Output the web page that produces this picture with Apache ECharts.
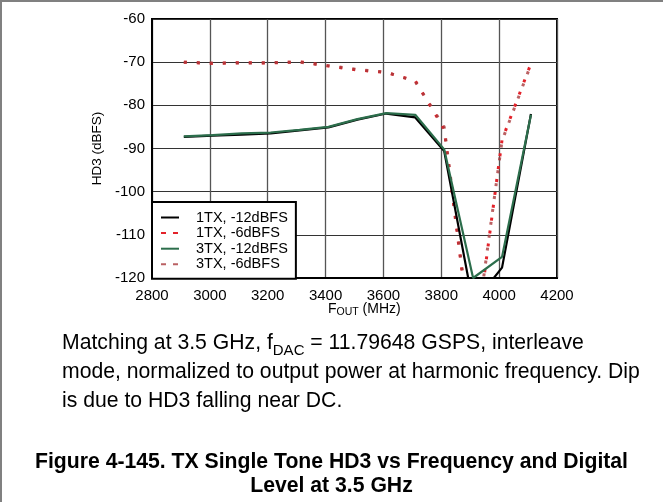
<!DOCTYPE html>
<html>
<head>
<meta charset="utf-8">
<script src="https://cdn.jsdelivr.net/npm/echarts@6/dist/echarts.min.js"></script>
<style>
html,body{margin:0;padding:0;background:#fff;}
#c{width:663px;height:502px;}
</style>
</head>
<body>
<div id="c"></div>
<script>
// Data
const freqMHz = [2910, 3010, 3110, 3210, 3310, 3410, 3510, 3610, 3710, 3810, 3910, 4010, 4110];
const tx1_m12 = [-87.3, -87.0, -86.8, -86.5, -85.8, -85.1, -83.3, -81.9, -82.8, -90.6, -126.0, -117.6, -82.0];
const tx1_m6  = [-70.0, -70.3, -70.1, -70.2, -69.9, -70.9, -71.8, -72.4, -74.3, -85.5, -139.0, -88.0, -70.3];
const tx3_m12 = [-87.2, -86.9, -86.5, -86.3, -85.7, -85.0, -83.2, -81.8, -82.2, -90.2, -120.0, -115.1, -82.2];
const tx3_m6  = [-70.0, -70.2, -70.2, -70.1, -70.0, -70.8, -71.7, -72.3, -74.5, -85.0, -138.0, -88.2, -70.5];
const seriesNames = ['1TX, -12dBFS', '1TX, -6dBFS', '3TX, -12dBFS', '3TX, -6dBFS'];
const xTicks = [2800, 3000, 3200, 3400, 3600, 3800, 4000, 4200];
const yTicks = [-120, -110, -100, -90, -80, -70, -60];

const pairs = (ys) => freqMHz.map((f, i) => [f, ys[i]]);
const FONT = '"Liberation Sans", Arial, sans-serif';

const chart = echarts.init(document.getElementById('c'), null, {renderer: 'canvas'});
const colors = ['#000000', '#e3222a', '#2c6e4c', '#a93a3c'];

chart.setOption({
  animation: false,
  backgroundColor: '#ffffff',
  grid: {
    left: 152, top: 19, right: 106, bottom: 224,
    show: true, borderColor: '#000', borderWidth: 2, backgroundColor: 'transparent'
  },
  xAxis: {
    type: 'value',
    min: xTicks[0], max: xTicks[xTicks.length - 1], interval: 200,
    axisLine: {show: true, lineStyle: {color: '#000', width: 2}},
    axisTick: {show: false},
    axisLabel: {color: '#000', fontSize: 15, fontFamily: FONT, margin: 10, formatter: (v) => String(v)},
    splitLine: {show: true, lineStyle: {color: '#555', width: 1.3}}
  },
  yAxis: {
    type: 'value',
    min: yTicks[0], max: yTicks[yTicks.length - 1], interval: 10,
    name: 'HD3 (dBFS)', nameLocation: 'middle', nameGap: 44,
    nameTextStyle: {color: '#000', fontSize: 13.5, fontFamily: FONT},
    axisLine: {show: true, lineStyle: {color: '#000', width: 2}},
    axisTick: {show: false},
    axisLabel: {color: '#000', fontSize: 15, fontFamily: FONT, margin: 7, formatter: (v) => String(v)},
    splitLine: {show: true, lineStyle: {color: '#333', width: 1.2}}
  },
  legend: {
    orient: 'vertical',
    left: 152, top: 202,
    backgroundColor: '#fff',
    borderColor: '#000', borderWidth: 2, borderRadius: 0,
    padding: [8, 8, 7, 8],
    itemWidth: 18, itemHeight: 13, itemGap: 0.6,
    itemStyle: {opacity: 0},
    textStyle: {color: '#000', fontSize: 14.5, fontFamily: FONT, padding: [0, 0, 0, 12]},
    data: [
      {name: seriesNames[0], lineStyle: {width: 2}},
      {name: seriesNames[1], lineStyle: {type: [5, 7], width: 2, dashOffset: 0}},
      {name: seriesNames[2], lineStyle: {width: 2}},
      {name: seriesNames[3], lineStyle: {type: [5, 7], width: 2, dashOffset: 0}}
    ]
  },
  series: [
    {name: seriesNames[0], type: 'line', data: pairs(tx1_m12), symbol: 'none', color: colors[0],
     lineStyle: {color: colors[0], width: 2.2}, z: 3},
    {name: seriesNames[1], type: 'line', data: pairs(tx1_m6), symbol: 'none', color: colors[1],
     lineStyle: {color: colors[1], width: 3, type: [3, 10], cap: 'butt'}, z: 2},
    {name: seriesNames[2], type: 'line', data: pairs(tx3_m12), symbol: 'none', color: colors[2],
     lineStyle: {color: colors[2], width: 2.2}, z: 4},
    {name: seriesNames[3], type: 'line', data: pairs(tx3_m6), symbol: 'none', color: colors[3],
     lineStyle: {color: colors[3], width: 3, type: [3, 10], cap: 'butt', opacity: 0.8}, z: 2}
  ],
  graphic: [
    {type: 'line', shape: {x1: 1, y1: 0, x2: 1, y2: 502}, style: {stroke: '#808080', lineWidth: 2}, silent: true},
    {type: 'line', shape: {x1: 0, y1: 1, x2: 663, y2: 1}, style: {stroke: '#808080', lineWidth: 2}, silent: true},
    {type: 'text', left: 328, top: 302, silent: true,
     style: {text: '{a|F}{s|OUT}{a| (MHz)}', rich: {
       a: {fontSize: 14, fontFamily: FONT, fill: '#000', verticalAlign: 'bottom'},
       s: {fontSize: 10.5, fontFamily: FONT, fill: '#000', verticalAlign: 'bottom', padding: [0, 0, -2, 0]}
     }}},
    {type: 'text', left: 62, top: 333, silent: true,
     style: {text: '{a|Matching at 3.5 GHz, f}{s|DAC}{a| = 11.79648 GSPS, interleave}', rich: {
       a: {fontSize: 21.2, fontFamily: FONT, fill: '#000', verticalAlign: 'bottom'},
       s: {fontSize: 15, fontFamily: FONT, fill: '#000', verticalAlign: 'bottom', padding: [0, 0, -4, 0]}
     }}},
    {type: 'text', left: 62, top: 362, silent: true,
     style: {text: 'mode, normalized to output power at harmonic frequency. Dip', font: '21.2px ' + FONT, fill: '#000'}},
    {type: 'text', left: 62, top: 391, silent: true,
     style: {text: 'is due to HD3 falling near DC.', font: '21.2px ' + FONT, fill: '#000'}},
    {type: 'text', left: 'center', top: 452, silent: true,
     style: {text: 'Figure 4-145. TX Single Tone HD3 vs Frequency and Digital', font: 'bold 21.2px ' + FONT, fill: '#000'}},
    {type: 'text', left: 'center', top: 476, silent: true,
     style: {text: 'Level at 3.5 GHz', font: 'bold 21.2px ' + FONT, fill: '#000'}}
  ]
});
</script>
</body>
</html>
